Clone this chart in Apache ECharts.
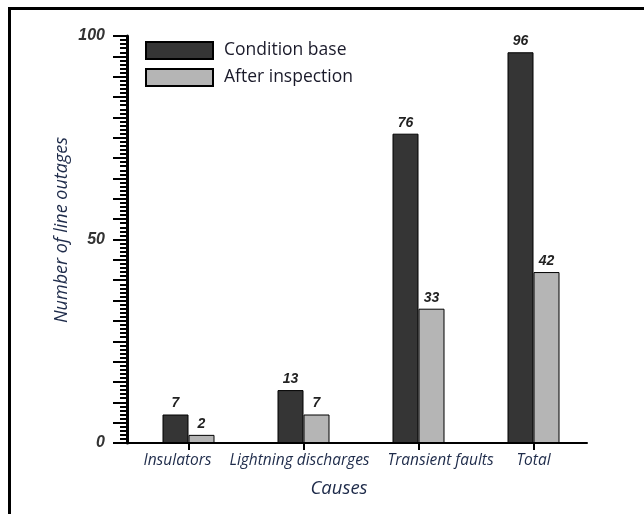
<!DOCTYPE html>
<html>
<head>
<meta charset="utf-8">
<script src="https://cdn.jsdelivr.net/npm/echarts@6/dist/echarts.min.js"></script>
<style>html,body{margin:0;padding:0;background:#fff}#c{width:644px;height:514px}</style>
</head>
<body>
<div id="c"></div>
<script>
var categories = ['Insulators', 'Lightning discharges', 'Transient faults', 'Total'];
var conditionBase = [7, 13, 76, 96];
var afterInspection = [2, 7, 33, 42];
var yLabels = [0, 50, 100];

var chart = echarts.init(document.getElementById('c'));
var navy = '#1e2b4a';
var catFont = {fontFamily: 'Open Sans', fontStyle: 'italic', fontSize: 15.5, color: navy};
var barLabel = {show: true, position: 'top', distance: 4, fontFamily: 'Liberation Sans', fontStyle: 'italic', fontWeight: 'bold', fontSize: 14, color: '#222'};
chart.setOption({
  animation: false,
  backgroundColor: '#fff',
  grid: [
    {left: 131, width: 460, top: 36, bottom: 71},
    {left: 127, width: 460, top: 36, bottom: 71}
  ],
  legend: {
    orient: 'vertical', left: 145, top: 41, padding: 0, itemWidth: 67, itemHeight: 17, itemGap: 8,
    icon: 'rect',
    textStyle: {fontFamily: 'Open Sans', fontSize: 17.5, color: '#1a1a2a', padding: [0,0,0,6]},
    data: ['Condition base', 'After inspection']
  },
  xAxis: [
    {type: 'category', gridIndex: 0, data: categories,
     axisLine: {show: false},
     axisTick: {show: true, alignWithLabel: true, length: 7, lineStyle: {color: '#000', width: 2}},
     axisLabel: {margin: 10, interval: 0, hideOverlap: false,
       formatter: function (v, i) { return '{c' + i + '|' + v + '}'; },
       rich: {
         c0: Object.assign({padding: [0, 22, 0, 0]}, catFont),
         c1: Object.assign({padding: [0, 8, 0, 0]}, catFont),
         c2: Object.assign({padding: [0, 0, 0, 44]}, catFont),
         c3: Object.assign({padding: [0, 0, 0, 0]}, catFont)
       }}},
    {type: 'value', gridIndex: 1, min: 0, max: 1,
     axisLine: {show: true, onZero: false, lineStyle: {color: '#000', width: 2}},
     axisTick: {show: false}, axisLabel: {show: false}, splitLine: {show: false}}
  ],
  yAxis: [
    {type: 'value', gridIndex: 0, min: 0, max: 100, show: false},
    {type: 'value', gridIndex: 1, min: 0, max: 100, interval: 5,
     axisLine: {show: true, lineStyle: {color: '#000', width: 3}},
     axisTick: {show: true, length: 14, lineStyle: {color: '#000', width: 2}},
     minorTick: {show: true, splitNumber: 5, length: 7, lineStyle: {color: '#000', width: 2}},
     splitLine: {show: false},
     axisLabel: {margin: 22, fontFamily: 'Liberation Sans', fontStyle: 'italic', fontWeight: 'bold', fontSize: 16, color: '#333',
       formatter: function (v) { return yLabels.indexOf(v) >= 0 ? String(v) : ''; }}}
  ],
  series: [
    {name: 'Condition base', type: 'bar', xAxisIndex: 0, yAxisIndex: 0, data: conditionBase,
     barWidth: 26, barGap: '0%',
     itemStyle: {color: '#353535', borderColor: '#000', borderWidth: 1},
     label: barLabel},
    {name: 'After inspection', type: 'bar', xAxisIndex: 0, yAxisIndex: 0, data: afterInspection,
     barWidth: 26, barGap: '0%',
     itemStyle: {color: '#b5b5b5', borderColor: '#000', borderWidth: 1},
     label: barLabel}
  ],
  graphic: [
    {type: 'line', shape: {x1: 8, y1: 8.5, x2: 644, y2: 8.5}, style: {stroke: '#000', lineWidth: 3}},
    {type: 'line', shape: {x1: 9.5, y1: 7, x2: 9.5, y2: 514}, style: {stroke: '#000', lineWidth: 3}},
    {type: 'text', x: 339, y: 489, style: {text: 'Causes', fontFamily: 'Open Sans', fontStyle: 'italic', fontSize: 18.5, fill: navy, textAlign: 'center', textVerticalAlign: 'middle'}},
    {type: 'text', x: 62, y: 230, rotation: Math.PI / 2, style: {text: 'Number of line outages', fontFamily: 'Open Sans', fontStyle: 'italic', fontSize: 18, fill: navy, textAlign: 'center', textVerticalAlign: 'middle'}}
  ]
});
</script>
</body>
</html>
